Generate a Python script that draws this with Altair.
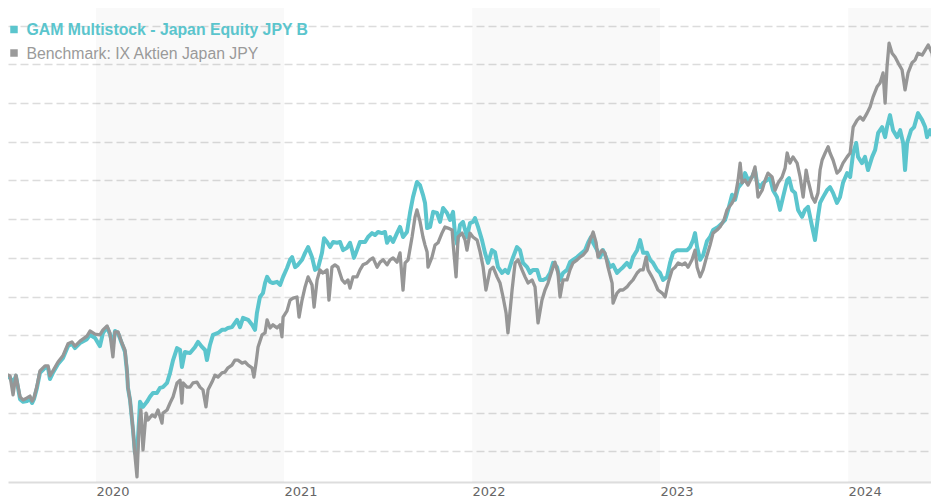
import altair as alt
import pandas as pd

TEAL = "#5bc5cd"
GRAY = "#969696"

legend_labels = ["GAM Multistock - Japan Equity JPY B", "Benchmark: IX Aktien Japan JPY"]
legend_colors = [TEAL, "#9a9a9a"]

year_ticks = [2020, 2021, 2022, 2023, 2024]
band_start = [2020, 2022, 2024]
band_end = [2021, 2023, 2025]
grid_values = [80, 90, 100, 110, 120, 130, 140, 150, 160, 170, 180, 190]

fund_t = [2019.521, 2019.543, 2019.559, 2019.574, 2019.596, 2019.612, 2019.633, 2019.649, 2019.660, 2019.670, 2019.686, 2019.702, 2019.729, 2019.745, 2019.755, 2019.771, 2019.798, 2019.824, 2019.851, 2019.872, 2019.888, 2019.915, 2019.952, 2019.968, 2019.995, 2020.021, 2020.037, 2020.059, 2020.074, 2020.090, 2020.101, 2020.117, 2020.138, 2020.154, 2020.165, 2020.170, 2020.181, 2020.197, 2020.207, 2020.218, 2020.229, 2020.234, 2020.250, 2020.271, 2020.287, 2020.303, 2020.324, 2020.340, 2020.356, 2020.378, 2020.394, 2020.410, 2020.431, 2020.447, 2020.457, 2020.473, 2020.500, 2020.527, 2020.543, 2020.564, 2020.580, 2020.590, 2020.606, 2020.622, 2020.649, 2020.670, 2020.686, 2020.702, 2020.723, 2020.750, 2020.766, 2020.782, 2020.809, 2020.830, 2020.846, 2020.856, 2020.872, 2020.888, 2020.899, 2020.910, 2020.926, 2020.941, 2020.963, 2020.979, 2020.995, 2021.016, 2021.032, 2021.043, 2021.059, 2021.074, 2021.096, 2021.112, 2021.128, 2021.149, 2021.165, 2021.181, 2021.202, 2021.213, 2021.229, 2021.245, 2021.261, 2021.282, 2021.298, 2021.314, 2021.335, 2021.351, 2021.362, 2021.372, 2021.388, 2021.404, 2021.431, 2021.447, 2021.468, 2021.484, 2021.500, 2021.521, 2021.537, 2021.548, 2021.564, 2021.580, 2021.601, 2021.617, 2021.633, 2021.654, 2021.670, 2021.686, 2021.707, 2021.723, 2021.739, 2021.750, 2021.761, 2021.777, 2021.793, 2021.814, 2021.830, 2021.846, 2021.867, 2021.883, 2021.899, 2021.910, 2021.920, 2021.936, 2021.952, 2021.973, 2021.989, 2022.005, 2022.016, 2022.032, 2022.053, 2022.069, 2022.085, 2022.106, 2022.122, 2022.138, 2022.160, 2022.176, 2022.191, 2022.213, 2022.239, 2022.255, 2022.271, 2022.293, 2022.309, 2022.324, 2022.346, 2022.362, 2022.378, 2022.399, 2022.415, 2022.431, 2022.452, 2022.468, 2022.484, 2022.505, 2022.521, 2022.537, 2022.559, 2022.585, 2022.601, 2022.617, 2022.633, 2022.644, 2022.665, 2022.681, 2022.697, 2022.718, 2022.734, 2022.750, 2022.771, 2022.787, 2022.803, 2022.824, 2022.840, 2022.856, 2022.878, 2022.894, 2022.910, 2022.931, 2022.947, 2022.963, 2022.984, 2023.000, 2023.016, 2023.037, 2023.053, 2023.069, 2023.090, 2023.106, 2023.122, 2023.144, 2023.160, 2023.176, 2023.186, 2023.197, 2023.213, 2023.229, 2023.250, 2023.266, 2023.282, 2023.309, 2023.330, 2023.346, 2023.362, 2023.383, 2023.399, 2023.415, 2023.436, 2023.452, 2023.468, 2023.489, 2023.505, 2023.516, 2023.532, 2023.548, 2023.569, 2023.585, 2023.601, 2023.622, 2023.638, 2023.654, 2023.676, 2023.686, 2023.702, 2023.718, 2023.734, 2023.755, 2023.771, 2023.787, 2023.809, 2023.824, 2023.840, 2023.851, 2023.867, 2023.888, 2023.904, 2023.920, 2023.941, 2023.957, 2023.973, 2023.995, 2024.011, 2024.027, 2024.043, 2024.053, 2024.074, 2024.090, 2024.106, 2024.128, 2024.144, 2024.160, 2024.181, 2024.197, 2024.207, 2024.223, 2024.239, 2024.261, 2024.277, 2024.293, 2024.303, 2024.314, 2024.335, 2024.351, 2024.372, 2024.394, 2024.410, 2024.420, 2024.436, 2024.452, 2024.473, 2024.484]

fund_v = [99.7, 99.0, 97.7, 99.5, 93.5, 92.8, 93.0, 93.5, 92.5, 93.5, 96.4, 100.3, 101.6, 101.6, 98.7, 100.3, 102.6, 104.1, 107.2, 107.8, 106.7, 108.0, 109.0, 110.1, 109.3, 107.2, 110.6, 112.1, 110.3, 107.5, 111.1, 110.6, 107.8, 105.7, 100.5, 96.4, 93.3, 85.5, 79.6, 79.1, 88.1, 92.8, 91.5, 92.8, 94.1, 95.1, 95.1, 96.4, 96.6, 97.7, 100.3, 103.6, 106.7, 106.2, 101.8, 105.7, 105.4, 107.0, 108.3, 107.0, 106.2, 103.6, 107.5, 110.1, 110.6, 111.4, 111.4, 111.9, 112.1, 114.0, 112.1, 114.5, 114.0, 112.7, 111.4, 115.8, 119.9, 120.9, 123.5, 125.1, 123.8, 123.5, 123.8, 123.0, 125.1, 127.4, 129.5, 130.2, 127.6, 128.2, 129.5, 131.3, 132.8, 130.2, 126.9, 127.4, 131.3, 135.1, 134.1, 132.8, 134.1, 133.9, 134.1, 132.0, 132.6, 133.9, 132.0, 130.0, 132.0, 134.1, 134.1, 135.4, 136.4, 135.9, 136.7, 136.4, 136.7, 133.9, 135.4, 134.1, 136.4, 138.0, 135.4, 136.7, 141.6, 145.7, 149.6, 148.8, 146.3, 144.2, 137.7, 138.0, 141.9, 141.6, 139.3, 142.9, 141.6, 139.8, 141.9, 135.9, 133.6, 138.5, 139.3, 135.4, 139.0, 139.3, 140.3, 138.0, 134.6, 131.3, 128.7, 132.0, 131.5, 127.6, 126.1, 126.9, 126.1, 129.5, 132.8, 132.0, 128.7, 127.6, 126.1, 126.9, 126.9, 124.3, 124.3, 124.8, 126.1, 128.7, 127.6, 124.3, 126.1, 126.9, 128.9, 129.5, 130.2, 131.3, 132.0, 133.9, 135.4, 133.9, 132.0, 130.2, 132.0, 129.5, 127.6, 128.2, 126.1, 126.9, 127.6, 128.7, 127.6, 130.2, 132.0, 134.6, 131.3, 131.3, 129.5, 128.7, 126.9, 126.1, 124.3, 125.1, 128.7, 131.3, 132.0, 132.0, 132.0, 132.0, 132.8, 134.6, 136.4, 132.8, 129.5, 130.7, 134.4, 135.4, 137.2, 138.0, 139.0, 139.8, 142.4, 146.3, 145.0, 148.1, 149.4, 151.9, 150.1, 150.9, 152.7, 149.4, 148.3, 149.4, 150.1, 150.6, 147.5, 145.7, 142.4, 145.7, 150.1, 150.6, 147.5, 146.8, 142.4, 140.6, 142.4, 143.2, 138.0, 134.6, 140.6, 144.2, 145.7, 147.5, 148.3, 146.8, 144.2, 145.7, 149.4, 151.9, 150.9, 157.1, 159.7, 156.1, 154.5, 156.1, 152.7, 156.1, 157.9, 162.3, 163.8, 161.2, 163.8, 166.9, 163.0, 161.2, 163.0, 159.7, 152.7, 159.7, 163.0, 163.8, 167.4, 165.6, 163.8, 161.2, 163.0, 161.2, 163.8, 166.2]

bench_t = [2019.521, 2019.543, 2019.559, 2019.574, 2019.596, 2019.612, 2019.633, 2019.649, 2019.660, 2019.670, 2019.686, 2019.702, 2019.729, 2019.745, 2019.755, 2019.771, 2019.798, 2019.824, 2019.851, 2019.872, 2019.888, 2019.915, 2019.952, 2019.968, 2019.995, 2020.021, 2020.037, 2020.059, 2020.074, 2020.090, 2020.101, 2020.117, 2020.138, 2020.154, 2020.165, 2020.170, 2020.181, 2020.197, 2020.207, 2020.218, 2020.229, 2020.239, 2020.250, 2020.266, 2020.277, 2020.298, 2020.314, 2020.330, 2020.351, 2020.356, 2020.378, 2020.394, 2020.410, 2020.431, 2020.447, 2020.457, 2020.463, 2020.484, 2020.500, 2020.516, 2020.537, 2020.553, 2020.569, 2020.585, 2020.596, 2020.617, 2020.633, 2020.649, 2020.670, 2020.686, 2020.702, 2020.723, 2020.739, 2020.755, 2020.777, 2020.793, 2020.809, 2020.830, 2020.840, 2020.851, 2020.862, 2020.883, 2020.899, 2020.910, 2020.926, 2020.941, 2020.963, 2020.979, 2020.989, 2020.995, 2021.016, 2021.032, 2021.048, 2021.069, 2021.080, 2021.096, 2021.112, 2021.128, 2021.149, 2021.160, 2021.176, 2021.191, 2021.207, 2021.229, 2021.239, 2021.255, 2021.271, 2021.287, 2021.309, 2021.324, 2021.340, 2021.351, 2021.367, 2021.388, 2021.404, 2021.420, 2021.441, 2021.457, 2021.473, 2021.495, 2021.511, 2021.527, 2021.548, 2021.564, 2021.580, 2021.601, 2021.617, 2021.633, 2021.644, 2021.660, 2021.681, 2021.697, 2021.707, 2021.723, 2021.739, 2021.750, 2021.761, 2021.766, 2021.787, 2021.803, 2021.819, 2021.840, 2021.856, 2021.872, 2021.894, 2021.899, 2021.915, 2021.926, 2021.947, 2021.963, 2021.973, 2021.989, 2022.005, 2022.027, 2022.043, 2022.059, 2022.074, 2022.096, 2022.112, 2022.133, 2022.149, 2022.165, 2022.181, 2022.191, 2022.213, 2022.229, 2022.245, 2022.266, 2022.282, 2022.298, 2022.319, 2022.335, 2022.351, 2022.372, 2022.388, 2022.404, 2022.426, 2022.441, 2022.457, 2022.468, 2022.484, 2022.505, 2022.521, 2022.537, 2022.559, 2022.574, 2022.590, 2022.612, 2022.628, 2022.644, 2022.660, 2022.670, 2022.691, 2022.707, 2022.723, 2022.745, 2022.750, 2022.771, 2022.787, 2022.803, 2022.824, 2022.840, 2022.856, 2022.878, 2022.894, 2022.910, 2022.926, 2022.936, 2022.957, 2022.973, 2022.989, 2023.011, 2023.027, 2023.043, 2023.064, 2023.080, 2023.096, 2023.117, 2023.133, 2023.149, 2023.170, 2023.186, 2023.197, 2023.213, 2023.229, 2023.250, 2023.266, 2023.282, 2023.303, 2023.319, 2023.340, 2023.356, 2023.383, 2023.399, 2023.415, 2023.426, 2023.436, 2023.452, 2023.468, 2023.489, 2023.505, 2023.521, 2023.543, 2023.559, 2023.574, 2023.596, 2023.612, 2023.628, 2023.649, 2023.665, 2023.676, 2023.691, 2023.707, 2023.729, 2023.745, 2023.761, 2023.777, 2023.787, 2023.809, 2023.824, 2023.840, 2023.851, 2023.862, 2023.878, 2023.894, 2023.904, 2023.920, 2023.941, 2023.957, 2023.973, 2023.995, 2024.011, 2024.027, 2024.048, 2024.064, 2024.080, 2024.101, 2024.117, 2024.133, 2024.154, 2024.170, 2024.186, 2024.197, 2024.207, 2024.218, 2024.234, 2024.250, 2024.266, 2024.287, 2024.303, 2024.319, 2024.340, 2024.356, 2024.372, 2024.394, 2024.410, 2024.426, 2024.447, 2024.457, 2024.473, 2024.484]

bench_v = [100.0, 99.5, 94.6, 99.7, 94.1, 93.3, 93.8, 94.3, 93.0, 93.8, 96.9, 100.8, 102.1, 102.1, 99.5, 100.8, 103.1, 104.7, 107.8, 108.3, 107.2, 108.5, 109.8, 111.1, 110.3, 110.1, 111.4, 112.4, 110.6, 104.4, 110.9, 110.9, 108.0, 106.2, 101.0, 96.6, 93.3, 85.5, 79.1, 73.4, 86.3, 90.7, 80.4, 89.9, 88.1, 89.4, 88.9, 90.7, 87.3, 89.9, 90.7, 92.5, 94.1, 97.7, 98.4, 92.5, 97.7, 96.6, 96.6, 97.7, 97.9, 96.6, 95.9, 91.5, 95.9, 97.9, 99.7, 99.2, 100.3, 100.5, 101.6, 102.3, 103.6, 103.6, 102.8, 103.1, 102.3, 101.6, 99.2, 102.8, 107.0, 110.1, 110.6, 114.0, 111.9, 112.7, 111.9, 112.7, 109.6, 114.7, 116.3, 119.1, 119.6, 119.9, 114.7, 119.1, 122.5, 125.1, 123.0, 117.3, 124.3, 126.9, 126.1, 126.9, 119.1, 127.6, 128.2, 127.6, 124.3, 123.5, 124.3, 122.2, 125.1, 125.1, 126.9, 128.2, 128.7, 129.5, 130.0, 127.6, 128.9, 129.5, 128.2, 129.5, 130.0, 128.9, 131.3, 121.7, 128.7, 129.5, 135.4, 140.6, 142.4, 139.5, 135.4, 133.3, 131.5, 127.6, 130.2, 133.3, 133.9, 136.4, 138.0, 137.7, 137.2, 133.9, 125.1, 135.4, 136.4, 134.6, 132.0, 136.4, 135.4, 134.6, 131.5, 127.6, 121.7, 126.9, 127.6, 125.1, 123.5, 119.9, 115.8, 110.6, 121.7, 128.7, 129.5, 126.9, 125.1, 123.5, 124.3, 122.5, 113.2, 119.1, 121.7, 123.5, 126.9, 128.9, 126.1, 119.9, 124.3, 124.3, 126.9, 128.7, 129.5, 130.2, 130.7, 132.0, 134.6, 136.7, 133.9, 130.2, 132.0, 131.3, 127.6, 123.5, 118.3, 120.9, 121.7, 121.7, 122.5, 123.5, 124.3, 126.1, 126.9, 126.9, 130.2, 126.9, 125.1, 123.5, 121.7, 120.9, 119.9, 123.5, 126.9, 127.6, 128.7, 128.2, 128.7, 127.6, 129.5, 132.0, 127.6, 125.1, 126.9, 130.7, 133.3, 136.4, 137.2, 138.0, 139.8, 142.4, 144.2, 145.7, 150.1, 154.5, 149.4, 150.1, 148.8, 150.9, 153.5, 145.7, 147.5, 150.1, 151.9, 150.9, 147.5, 149.4, 150.9, 153.2, 157.1, 154.5, 156.1, 154.5, 150.9, 145.7, 152.7, 150.1, 145.7, 144.4, 146.8, 152.7, 155.3, 157.1, 158.7, 157.1, 155.3, 151.9, 152.7, 154.5, 156.1, 157.1, 163.8, 165.6, 166.4, 165.6, 167.4, 169.0, 171.6, 174.2, 175.2, 177.8, 170.0, 179.3, 185.5, 182.9, 181.9, 180.4, 178.6, 173.4, 177.8, 180.4, 181.1, 182.9, 182.4, 183.7, 185.0, 182.9, 178.6, 183.7, 185.5]

fund_df = pd.DataFrame({"t": fund_t, "v": fund_v})
bench_df = pd.DataFrame({"t": bench_t, "v": bench_v})
bands_df = pd.DataFrame({"t": band_start, "t2": band_end})

x_scale = alt.Scale(domain=[2019.532, 2024.441], nice=False, zero=False)
y_scale = alt.Scale(domain=[72.09, 194.57], nice=False, zero=False)

x_axis = alt.Axis(values=year_ticks, format="d", labelAlign="left", ticks=False, grid=False,
                  domain=True, domainColor="#dddddd", domainWidth=2,
                  labelFont="DejaVu Sans", labelFontSize=13, labelColor="#666666",
                  labelPadding=3, labelFlush=False, labelOverlap=False, title=None)
y_axis = alt.Axis(values=grid_values, grid=True, gridDash=[8, 4], gridColor="#dcdcdc",
                  gridWidth=1.5, labels=False, ticks=False, domain=False, title=None)

bands = alt.Chart(bands_df).mark_rect(fill="#000000", opacity=0.024, clip=True).encode(
    x=alt.X("t:Q", scale=x_scale, axis=x_axis),
    x2="t2:Q",
)

fund_line = alt.Chart(fund_df).mark_line(color=TEAL, strokeWidth=4, clip=True,
                                         strokeJoin="round").encode(
    x=alt.X("t:Q", scale=x_scale, axis=x_axis),
    y=alt.Y("v:Q", scale=y_scale, axis=y_axis),
)

bench_line = alt.Chart(bench_df).mark_line(color=GRAY, strokeWidth=3.3, clip=True,
                                           strokeJoin="round").encode(
    x=alt.X("t:Q", scale=x_scale, axis=x_axis),
    y=alt.Y("v:Q", scale=y_scale, axis=y_axis),
)

one = alt.Data(values=[{"k": 1}])

sq1 = alt.Chart(one).mark_square(size=56, color=legend_colors[0], opacity=1).encode(
    x=alt.value(6), y=alt.value(21.5))
sq2 = alt.Chart(one).mark_square(size=56, color=legend_colors[1], opacity=1).encode(
    x=alt.value(6), y=alt.value(45))
txt1 = alt.Chart(one).mark_text(text=legend_labels[0], align="left", baseline="alphabetic",
                                font="Liberation Sans", fontSize=15.8, fontWeight="bold",
                                color=legend_colors[0]).encode(x=alt.value(18.5), y=alt.value(26.5))
txt2 = alt.Chart(one).mark_text(text=legend_labels[1], align="left", baseline="alphabetic",
                                font="Liberation Sans", fontSize=15.8, fontWeight="normal",
                                color=legend_colors[1]).encode(x=alt.value(18.5), y=alt.value(50.5))

chart = alt.layer(bands, fund_line, bench_line, sq1, sq2, txt1, txt2).properties(
    width=923, height=474, padding=0
).configure_view(stroke=None)

chart.save("out.html", embed_options={"renderer": "svg", "actions": False})
